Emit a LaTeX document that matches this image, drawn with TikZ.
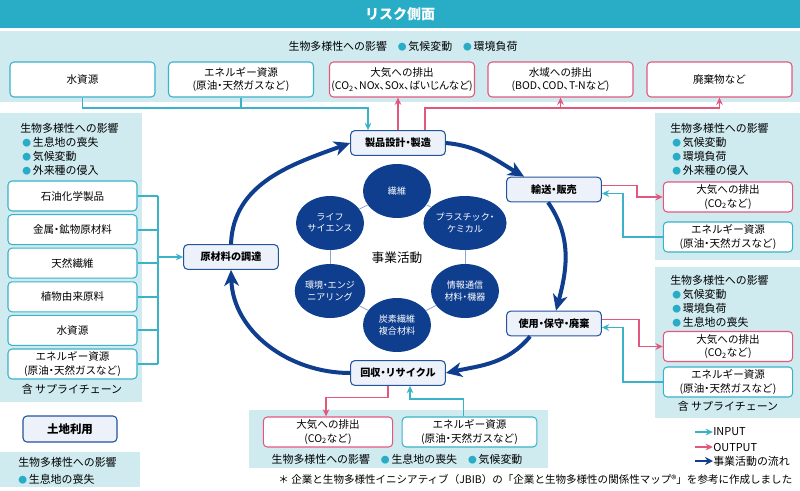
\documentclass[tikz,border=0pt]{standalone}
\usepackage{fontspec}
\setmainfont{Noto Sans CJK JP}
\newfontfamily\paltjp{Noto Sans CJK JP}[RawFeature=+palt]
\usetikzlibrary{arrows.meta,calc,shapes.geometric}

\definecolor{riskteal}{HTML}{29ACC6}
\definecolor{panelbg}{HTML}{CFEBF0}
\definecolor{inteal}{HTML}{3AB2C8}
\definecolor{outpink}{HTML}{E2587D}
\definecolor{flowblue}{HTML}{0F3E8E}
\definecolor{procline}{HTML}{24539E}
\definecolor{procfill}{HTML}{EDF2FA}
\definecolor{hexline}{HTML}{8FA3C8}

\newcommand{\riskhead}{\fontsize{10.5}{12}\selectfont\bfseries}
\newcommand{\risknote}{\fontsize{8.2}{10}\selectfont}
\newcommand{\riskbox}{\fontsize{7.9}{10}\selectfont}
\newcommand{\riskproc}{\fontsize{7.6}{9}\selectfont\bfseries}
\newcommand{\riskbiz}{\fontsize{6.8}{8.4}\selectfont}
\newcommand{\riskcenter}{\fontsize{9.5}{11}\selectfont}
\newcommand{\riskfoot}{\fontsize{7.9}{9}\selectfont}
\newcommand{\bul}{{\color{riskteal}\scalebox{0.8}{●}}\,}
\newcommand{\dt}{{\paltjp ・}}

\tikzset{
  inbox/.style={draw=inteal, fill=white, line width=0.8pt, rounded corners=3pt,
    align=center, inner sep=0pt, font=\riskbox},
  outbox/.style={inbox, draw=outpink},
  topbox/.style={minimum width=108.75pt, minimum height=26.25pt},
  sidebox/.style={minimum width=97pt, minimum height=22.5pt},
  proc/.style={draw=procline, fill=procfill, line width=0.8pt, rounded corners=3pt,
    inner sep=0pt, minimum width=71pt, minimum height=18.5pt, font=\riskproc},
  biz/.style={ellipse, fill=flowblue, text=white, minimum width=51pt,
    minimum height=40.5pt, inner sep=0pt, align=center, font=\riskbiz},
  note/.style={font=\risknote, inner sep=0pt},
  inline/.style={draw=inteal, line width=1.4pt},
  inarrow/.style={inline, -{Stealth[length=5.5pt,width=5pt]}},
  outflow/.style={draw=outpink, line width=1.4pt},
  outarrow/.style={outflow, -{Stealth[length=5.5pt,width=5pt]}},
  flow/.style={draw=flowblue, line width=3pt, -{Stealth[length=12pt,width=11pt,inset=3.5pt]}},
  hex/.style={draw=hexline, line width=0.6pt},
}

\begin{document}
\begin{tikzpicture}[x=0.75pt,y=-0.75pt]
%%%%% START %%%%%
\useasboundingbox (0,0) rectangle (800,490);

% header and panels
\fill[riskteal] (0,0) rectangle (800,28);
\node[font=\riskhead, text=white] (risk) at (400,14) {リスク側面};

\fill[panelbg] (0,31) rectangle (800,102);
\fill[panelbg] (0,113) rectangle (142,402);
\fill[panelbg] (655,113) rectangle (800,260);
\fill[panelbg] (655,267) rectangle (800,418);
\fill[panelbg] (249,410) rectangle (548,468);
\fill[panelbg] (0,452) rectangle (140,487);

% top row
\node[note] (topimp) at (403,46) {生物多様性への影響\quad\bul 気候変動\quad\bul 環境負荷};
\node[inbox, topbox] (twater) at (82.5,79.5) {水資源};
\node[inbox, topbox] (tenergy) at (241,79.5) {エネルギー資源\\(原油\dt 天然ガスなど)};
\node[outbox, topbox] (tair) at (402,79.5) {大気への排出\\{\paltjp (CO\textsubscript{2}、NOx、SOx、ばいじんなど)}};
\node[outbox, topbox] (twbody) at (560.5,79.5) {水域への排出\\{\paltjp (BOD、COD、T-Nなど)}};
\node[outbox, topbox] (twaste) at (719.5,79.5) {廃棄物など};

% business cycle
\node[proc] (design) at (398,143) {製品設計\dt 製造};
\node[proc] (ship) at (554,189.5) {輸送\dt 販売};
\node[proc] (use) at (554,323.5) {使用\dt 保守\dt 廃棄};
\node[proc] (recyc) at (398,373) {回収\dt リサイクル};
\node[proc] (raw) at (231,257) {原材料の調達};

\draw[flow] (raw.north) to[out=88,in=200] (design.west);
\draw[flow] (design.east) to[out=-5,in=150] ($(ship.north west)+(18,0)$);
\draw[flow] ($(ship.south)+(-6,0)$) to[out=-55,in=75] ($(use.north)+(2,0)$);
\draw[flow] ($(use.south west)+(24,0)$) to[out=-130,in=12] (recyc.east);
\draw[flow] (recyc.west) to[out=180,in=-88] (raw.south);

\node[biz] (c1) at (397,191) {繊維};
\node[biz] (c2) at (465,223) {プラスチック\dt\\ケミカル};
\node[biz] (c3) at (465,291) {情報通信\\材料\dt 機器};
\node[biz] (c4) at (397,325) {炭素繊維\\複合材料};
\node[biz] (c5) at (330,291) {環境\dt エンジ\\ニアリング};
\node[biz] (c6) at (330,223) {ライフ\\サイエンス};
\foreach \a/\b in {c1/c2, c2/c3, c3/c4, c4/c5, c5/c6, c6/c1}
  \draw[hex] (\a) -- (\b);
\node[font=\riskcenter] (bizact) at (397,258) {事業活動};

% top connectors
\coordinate (tjoin) at (368,108);
\coordinate (pjoin) at (425,108);
\draw[inarrow] (twater.south) |- (tjoin) -- (tjoin |- design.north);
\draw[inline] (tenergy.south) -- (tenergy.south |- tjoin);
\draw[outarrow] (design.north) -- (design.north |- tair.south);
\draw[outarrow] (pjoin |- design.north) -- (pjoin) -| (twaste.south);
\draw[outarrow] (twbody.south |- pjoin) -- (twbody.south);

% left panel
\node[note, anchor=west] (limp) at (20,128) {生物多様性への影響};
\foreach \t [count=\i] in {生息地の喪失, 気候変動, 外来種の侵入}
  \node[note, anchor=west] (limp\i) at (22,128+14*\i) {\bul\t};
\coordinate (lbus) at (158,257);
\foreach \t [count=\i] in {石油化学製品, 金属\dt 鉱物原材料, 天然繊維, 植物由来原料, 水資源,
    {エネルギー資源\\(原油\dt 天然ガスなど)}} {
  \node[inbox, sidebox, minimum width=96.75pt] (lb\i) at (72.5,196+33.6*\i-33.6) {\t};
  \draw[inline] (lb\i.east) -- (lb\i.east -| lbus);
}
\draw[inline] (lb1.east -| lbus) -- (lb6.east -| lbus);
\draw[inarrow] (lbus) -- (raw.west);
\node[note] (lsupply) at (72,389) {含 サプライチェーン};

% land use
\node[proc, minimum width=70.5pt, minimum height=19.5pt, font=\fontsize{8.6}{10}\selectfont\bfseries] (land) at (70,429) {土地利用};
\node[note, anchor=west] (bimp) at (18,462) {生物多様性への影響};
\node[note, anchor=west] (bimp1) at (18,479) {\bul 生息地の喪失};

% right panel 1
\node[note, anchor=west] (r1imp) at (670,128) {生物多様性への影響};
\foreach \t [count=\i] in {気候変動, 環境負荷, 外来種の侵入}
  \node[note, anchor=west] (r1imp\i) at (672,128+14*\i) {\bul\t};
\node[outbox, sidebox] (rair1) at (728,197) {大気への排出\\(CO\textsubscript{2}など)};
\node[inbox, sidebox] (ren1) at (728,237) {エネルギー資源\\(原油\dt 天然ガスなど)};
\draw[outarrow] ($(ship.east)+(0,-4)$) -| ($(rair1.west)+(-26,0)$) -- (rair1.west);
\draw[inarrow] (ren1.west) -| ($(ship.east)+(21,4)$) -- ($(ship.east)+(0,4)$);

% right panel 2
\node[note, anchor=west] (r2imp) at (670,280) {生物多様性への影響};
\foreach \t [count=\i] in {気候変動, 環境負荷, 生息地の喪失}
  \node[note, anchor=west] (r2imp\i) at (672,280+14*\i) {\bul\t};
\node[outbox, sidebox] (rair2) at (728,346.5) {大気への排出\\(CO\textsubscript{2}など)};
\node[inbox, sidebox] (ren2) at (728,382) {エネルギー資源\\(原油\dt 天然ガスなど)};
\node[note] (rsupply) at (728,406) {含 サプライチェーン};
\draw[outarrow] ($(use.east)+(0,-4)$) -| ($(rair2.west)+(-24,0)$) -- (rair2.west);
\draw[inarrow] (ren2.west) -| ($(use.east)+(21,4)$) -- ($(use.east)+(0,4)$);

% bottom panel
\node[outbox, sidebox] (bair) at (328,432) {大気への排出\\(CO\textsubscript{2}など)};
\node[inbox, sidebox, minimum width=101pt] (ben) at (469.5,432) {エネルギー資源\\(原油\dt 天然ガスなど)};
\node[note] (botimp) at (397,459) {生物多様性への影響\quad\bul 生息地の喪失\quad\bul 気候変動};
\draw[outarrow] ($(recyc.south)+(-10,0)$) |- ($(bair.north)+(-2,-19)$) -- ($(bair.north)+(-2,0)$);
\draw[inarrow] ($(ben.north)+(-6,0)$) |- ($(recyc.south)+(12,13)$) -- ($(recyc.south)+(12,0)$);

% legend
\node[note, anchor=west] (lgin) at (713,432) {INPUT};
\node[note, anchor=west] (lgout) at (713,447) {OUTPUT};
\node[note, anchor=west] (lgflow) at (713,461) {事業活動の流れ};
\draw[inarrow] ($(lgin.west)+(-18,0)$) -- (lgin.west);
\draw[outarrow] ($(lgout.west)+(-18,0)$) -- (lgout.west);
\draw[draw=flowblue, line width=1.6pt, -{Stealth[length=6pt,width=6pt]}] ($(lgflow.west)+(-18,0)$) -- (lgflow.west);

% note
\node[font=\riskfoot, anchor=east] (foot) at (797,479) {＊ 企業と生物多様性イニシアティブ（JBIB）の「企業と生物多様性の関係性マップ®」を参考に作成しました};

%%%%% END %%%%%
\end{tikzpicture}
\end{document}
